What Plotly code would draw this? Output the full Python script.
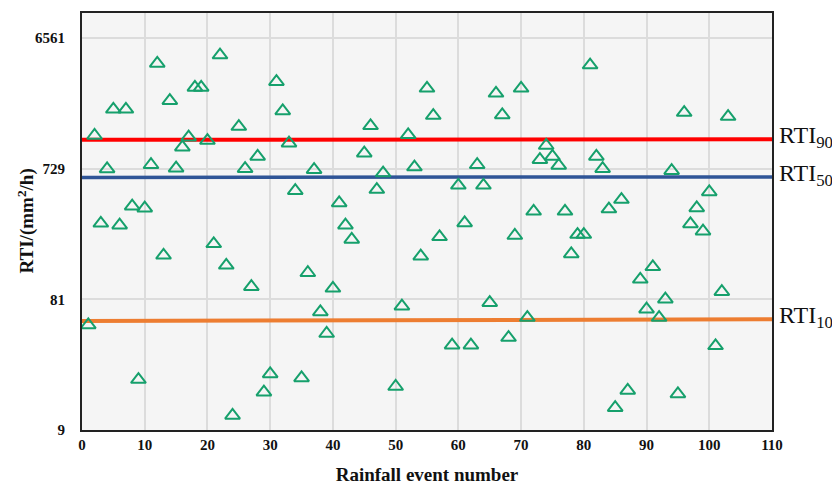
import math
import plotly.graph_objects as go

event_no = [1, 2, 3, 4, 5, 6, 7, 8, 9, 10, 11, 12, 13, 14, 15, 16, 17, 18, 19, 20,
            21, 22, 23, 24, 25, 26, 27, 28, 29, 30, 31, 32, 33, 34, 35, 36, 37, 38, 39, 40,
            41, 42, 43, 45, 46, 47, 48, 50, 51, 52, 53, 54, 55, 56, 57, 59, 60,
            61, 62, 63, 64, 65, 66, 67, 68, 69, 70, 71, 72, 73, 74, 75, 76, 77, 78, 79, 80,
            81, 82, 83, 84, 85, 86, 87, 89, 90, 91, 92, 93, 94, 95, 96, 97, 98, 99, 100,
            101, 102, 103]
rti = [52.7, 1274, 291, 726, 1979, 282, 1979, 388, 21.0, 375, 779, 4279, 170, 2290, 736, 1047, 1238, 2862, 2862, 1171,
       206, 4928, 143.5, 11.5, 1481, 729, 100.3, 896, 17.0, 23.1, 3149, 1927, 1120, 504, 21.6, 126.7, 717, 65.6, 45.6, 97.5,
       410, 282, 222, 947, 1499, 513, 677, 18.7, 72.2, 1289, 749, 167.5, 2815, 1781, 232, 37.5, 551,
       293, 37.5, 779, 551, 76.6, 2588, 1802, 42.6, 237, 2815, 59.6, 356, 848, 1077, 896, 770, 356, 174, 241, 241,
       4166, 896, 729, 370, 13.1, 434, 17.5, 113.4, 68.6, 140, 59.6, 81.2, 705, 16.5, 1873, 288, 377, 255, 493,
       37.1, 92.2, 1752]

line_x = [0, 110]
rti90 = [1185, 1197]
rti50 = [630, 635]
rti10 = [56.2, 58.0]
line_labels = ["RTI<sub>90</sub>", "RTI<sub>50</sub>", "RTI<sub>10</sub>"]
y_ticks = [9, 81, 729, 6561]
x_ticks = list(range(0, 111, 10))

serif = "Liberation Serif, Times New Roman, serif"

fig = go.Figure()
for ys, col, w in [(rti90, "#ff0000", 4), (rti50, "#2f5597", 3.5), (rti10, "#ed7d31", 4)]:
    fig.add_trace(go.Scatter(x=line_x, y=ys, mode="lines", line=dict(color=col, width=w),
                             showlegend=False, hoverinfo="skip"))
fig.add_trace(go.Scatter(x=event_no, y=rti, mode="markers",
                         marker=dict(symbol="triangle-up-open", size=13, color="#16a06c",
                                     line=dict(width=2, color="#16a06c")),
                         showlegend=False))

for lab, ys in zip(line_labels, [rti90, rti50, rti10]):
    fig.add_annotation(x=1.0, xref="paper", y=math.log10(ys[-1]), yref="y", text=lab, showarrow=False,
                       xanchor="left", xshift=5, yanchor="middle", yshift=2,
                       font=dict(family=serif, size=24, color="#111"))

# y-axis title placed as rotated text left of the tick labels
fig.add_annotation(x=0, xref="paper", y=0.5, yref="paper", text="RTI/(mm<sup>2</sup>/h)",
                   textangle=-90, showarrow=False, xanchor="center", yanchor="middle", xshift=-56,
                   font=dict(family=serif, size=19, weight="bold", color="#111"))

# the page body adds an 8px offset, so the figure is sized 8px smaller
fig.update_layout(
    width=832, height=479,
    margin=dict(l=74, r=68, t=3, b=57),
    paper_bgcolor="white", plot_bgcolor="#f5f5f5",
    font=dict(family=serif, color="#111"),
)
fig.update_xaxes(range=[0, 110], tickvals=x_ticks, showgrid=True, gridcolor="#dcdcdc", gridwidth=1.5,
                 showline=True, linecolor="#222", linewidth=2, mirror=True, ticks="", zeroline=False,
                 tickfont=dict(family=serif, size=15, weight="bold", color="#111"),
                 title=dict(text="Rainfall event number", standoff=16,
                            font=dict(family=serif, size=19, weight="bold", color="#111")))
fig.update_yaxes(type="log", range=[0.9542, 4.0], tickvals=y_ticks, ticktext=[str(v) for v in y_ticks],
                 showgrid=True, gridcolor="#dcdcdc", gridwidth=1.5,
                 showline=True, linecolor="#222", linewidth=2, mirror=True, ticks="", zeroline=False,
                 ticklabelstandoff=12,
                 tickfont=dict(family=serif, size=15, weight="bold", color="#111"))

fig.write_html("out.html")
